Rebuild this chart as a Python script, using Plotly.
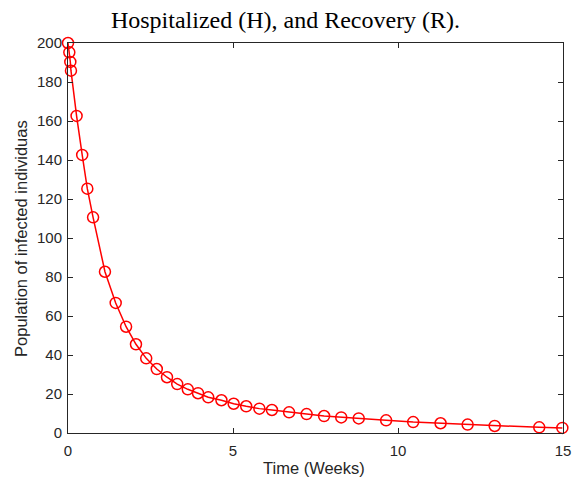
import plotly.graph_objects as go

# Time (weeks) and infected population samples
time_weeks = [0.0, 0.04, 0.07, 0.09, 0.26, 0.43, 0.585, 0.76, 1.12, 1.445, 1.76, 2.06,
              2.37, 2.69, 3.0, 3.31, 3.63, 3.94, 4.25, 4.65, 5.02, 5.40, 5.80, 6.18,
              6.70, 7.23, 7.76, 8.28, 8.81, 9.64, 10.46, 11.29, 12.11, 12.93, 14.28, 14.98]
infected = [200.0, 195.2, 190.3, 185.8, 162.6, 142.6, 125.3, 110.6, 82.7, 66.7, 54.5, 45.5,
            38.3, 32.8, 28.6, 25.1, 22.4, 20.4, 18.3, 16.8, 15.0, 13.7, 12.5, 11.8,
            10.6, 9.7, 8.7, 8.0, 7.5, 6.5, 5.6, 5.0, 4.3, 3.6, 2.9, 2.6]

x_ticks = [0, 5, 10, 15]
y_ticks = list(range(0, 201, 20))

title_text = "Hospitalized (H), and Recovery (R)."
x_label = "Time (Weeks)"
y_label = "Population of infected individuas"

axis_color = "#262626"
sans = "Liberation Sans, Arial, sans-serif"
tick_font = dict(family=sans, size=15, color=axis_color)
label_font = dict(family=sans, size=16.5, color=axis_color)

fig = go.Figure()
fig.add_trace(go.Scatter(
    x=time_weeks, y=infected,
    mode="lines+markers",
    line=dict(color="#ff0000", width=1.5),
    marker=dict(symbol="circle-open", size=11, color="#ff0000",
                line=dict(width=1.5, color="#ff0000")),
    cliponaxis=False,
    showlegend=False,
))

fig.update_layout(
    width=573, height=481,
    margin=dict(l=68, r=10, t=43, b=48, autoexpand=False),
    paper_bgcolor="white", plot_bgcolor="white",
    title=dict(
        text=title_text,
        font=dict(family="Liberation Serif, Times New Roman, serif", size=24, color="black"),
        x=285.5 / 573, xref="container", xanchor="center",
        y=1 - 20 / 481, yref="container", yanchor="middle",
    ),
    annotations=[
        dict(text=x_label, xref="paper", yref="paper", x=0.497, y=-0.0897,
             xanchor="center", yanchor="middle", showarrow=False, font=label_font),
        dict(text=y_label, xref="paper", yref="paper", x=-0.095, y=0.5, textangle=-90,
             xanchor="center", yanchor="middle", showarrow=False, font=label_font),
    ],
)

fig.update_xaxes(
    range=[0, 15], tickvals=x_ticks, ticks="inside", ticklen=5, tickcolor=axis_color,
    showline=True, linecolor=axis_color, linewidth=1, mirror="ticks",
    showgrid=False, zeroline=False, tickfont=tick_font, ticklabelstandoff=4,
    automargin=False,
)
fig.update_yaxes(
    range=[0, 200], tickvals=y_ticks, ticks="inside", ticklen=5, tickcolor=axis_color,
    showline=True, linecolor=axis_color, linewidth=1, mirror="ticks",
    showgrid=False, zeroline=False, tickfont=tick_font, ticklabelstandoff=2,
    automargin=False,
)

fig.write_html("out.html")
